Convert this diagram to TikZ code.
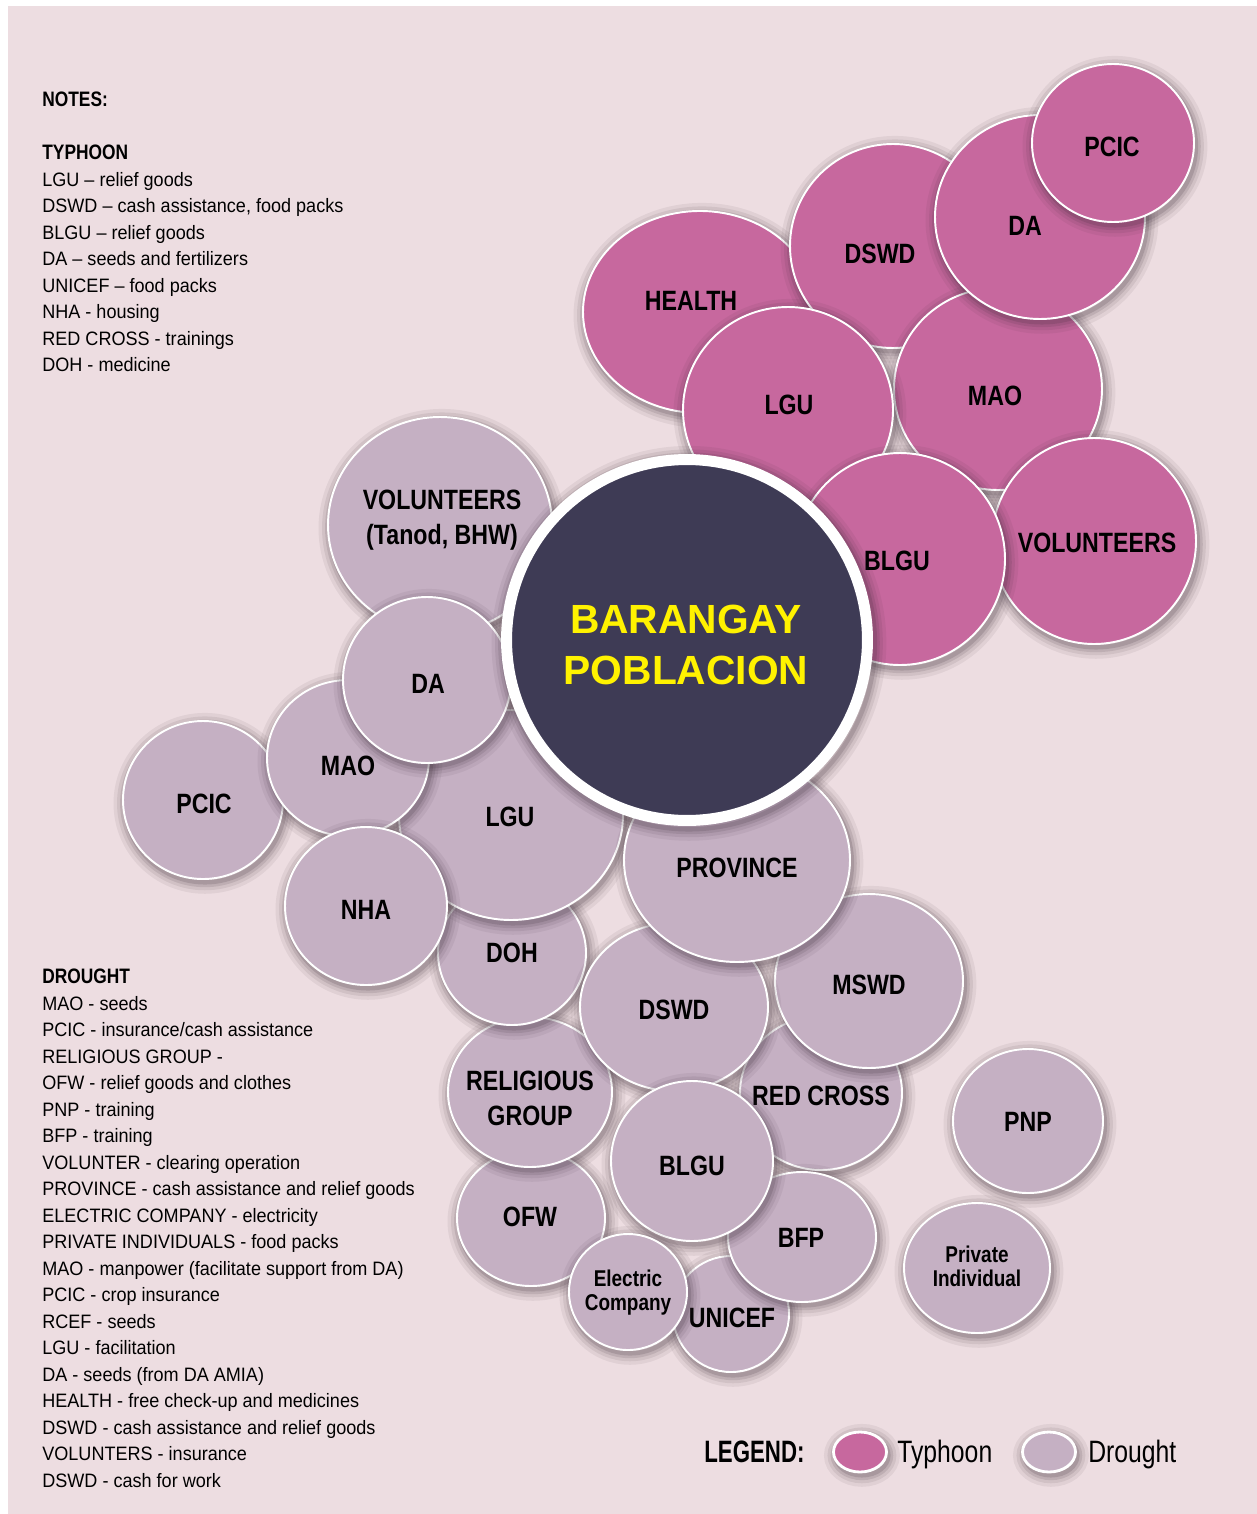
\documentclass[tikz,border=0pt]{standalone}
\usepackage{fontspec}
\setmainfont{Liberation Sans}[FakeStretch=0.93]
\newfontfamily\bubbleFont{Liberation Sans}[FakeStretch=0.83]
\newfontfamily\legendFont{Liberation Sans}[FakeStretch=0.8]
\newfontfamily\legendHeadFont{Liberation Sans}[FakeStretch=0.72]
\newfontfamily\centerFont{Liberation Sans}

\definecolor{bgPink}{HTML}{EDDDE1}
\definecolor{typhoonPink}{HTML}{C7689E}
\definecolor{droughtMauve}{HTML}{C5B0C3}
\definecolor{centerNavy}{HTML}{3E3B55}
\definecolor{titleYellow}{HTML}{FFF200}
\definecolor{shadowPlum}{HTML}{3A2A36}

\tikzset{
    bubble/.style={draw=white, line width=1.1pt},
    typhoon/.style={bubble, fill=typhoonPink},
    drought/.style={bubble, fill=droughtMauve},
    bubbletext/.style={inner sep=0pt, align=center,
        font=\bubbleFont\bfseries\fontsize{15.9}{19.8}\selectfont},
    smalltext/.style={inner sep=0pt, align=center,
        font=\bubbleFont\bfseries\fontsize{13}{13.6}\selectfont},
    notetext/.style={inner sep=0pt, align=left, anchor=north west,
        font=\fontsize{11.05}{15.08}\selectfont},
    legendtext/.style={inner sep=0pt, anchor=base west,
        font=\legendFont\fontsize{17.6}{20}\selectfont}
}

% draws the soft shadow below an ellipse: cx, cy, rx, ry
\newcommand{\bubbleShadow}[4]
{
    \foreach \w/\o in {13pt/0.07, 9pt/0.09, 5.5pt/0.12, 2.5pt/0.16}
        \draw[shadowPlum, draw opacity=\o, line width=\w,
              transform canvas={xshift=1.1pt, yshift=-1.9pt}]
            (#1,-#2) ellipse [x radius=#3, y radius=#4];
}
% style, cx, cy, rx, ry, name, label x, label y, label
\newcommand{\bubble}[9]
{
    \bubbleShadow{#2}{#3}{#4}{#5}
    \path[#1] (#2,-#3) ellipse [x radius=#4, y radius=#5];
    \node[bubbletext] (#6) at (#7,-#8) {#9};
}
\newcommand{\noteHead}[1]{{\bubbleFont\bfseries\fontsize{11.9}{15.08}\selectfont #1}}

\begin{document}
\begin{tikzpicture}[x=0.02cm, y=0.02cm]

    \useasboundingbox (0,0) rectangle (1257,-1514);
    \fill[white] (0,0) rectangle (1257,-1514);
    \fill[bgPink] (8,-6) rectangle (1257,-1514);

    %draws notes:
    \node[notetext] (typhoonNotes) at (42,-92) {\noteHead{NOTES:}\\[15.08pt]
        \noteHead{TYPHOON}\\
        LGU -- relief goods\\
        DSWD -- cash assistance, food packs\\
        BLGU -- relief goods\\
        DA -- seeds and fertilizers\\
        UNICEF -- food packs\\
        NHA - housing\\
        RED CROSS - trainings\\
        DOH - medicine};

    \node[notetext] (droughtNotes) at (42,-969) {\noteHead{DROUGHT}\\
        MAO - seeds\\
        PCIC - insurance/cash assistance\\
        RELIGIOUS GROUP -\\
        OFW - relief goods and clothes\\
        PNP - training\\
        BFP - training\\
        VOLUNTER - clearing operation\\
        PROVINCE - cash assistance and relief goods\\
        ELECTRIC COMPANY - electricity\\
        PRIVATE INDIVIDUALS - food packs\\
        MAO - manpower (facilitate support from DA)\\
        PCIC - crop insurance\\
        RCEF - seeds\\
        LGU - facilitation\\
        DA - seeds (from DA AMIA)\\
        HEALTH - free check-up and medicines\\
        DSWD - cash assistance and relief goods\\
        VOLUNTERS - insurance\\
        DSWD - cash for work};

    %draws typhoon bubbles:
    \bubble{typhoon}{700}{312}{117}{101}{tyHealth}{691}{301}{HEALTH}
    \bubble{typhoon}{893}{246}{103}{102}{tyDswd}{880}{254}{DSWD}
    \bubble{typhoon}{998}{389}{104}{101}{tyMao}{995}{396}{MAO}
    \bubble{typhoon}{1040}{217}{105}{102}{tyDa}{1025}{226}{DA}
    \bubble{typhoon}{1113}{143}{81}{79}{tyPcic}{1112}{147}{PCIC}
    \bubble{typhoon}{788}{410}{105}{103}{tyLgu}{789}{405}{LGU}
    \bubble{typhoon}{1094}{541}{102}{103}{tyVolunteers}{1097}{543}{VOLUNTEERS}
    \bubble{typhoon}{900}{559}{105}{106}{tyBlgu}{897}{561}{BLGU}

    %draws drought bubbles:
    \bubble{drought}{440}{525}{112}{108}{drVolunteers}{442}{520}{VOLUNTEERS\\(Tanod, BHW)}
    \bubble{drought}{203}{800}{80}{79}{drPcic}{204}{804}{PCIC}
    \bubble{drought}{531}{1218}{74}{68}{drOfw}{530}{1217}{OFW}
    \bubble{drought}{530}{1092}{82}{75}{drReligious}{530}{1098}{RELIGIOUS\\GROUP}
    \bubble{drought}{512}{953}{74}{72}{drDoh}{512}{953}{DOH}
    \bubble{drought}{511}{815}{112}{105}{drLgu}{510}{817}{LGU}
    \bubble{drought}{348}{758}{81}{78}{drMao}{348}{766}{MAO}
    \bubble{drought}{427}{680}{84}{83}{drDa}{428}{684}{DA}
    \bubble{drought}{366}{906}{81}{79}{drNha}{366}{910}{NHA}
    \bubble{drought}{821}{1093}{81}{77}{drRedCross}{821}{1096}{RED CROSS}
    \bubble{drought}{869}{981}{94}{87}{drMswd}{869}{985}{MSWD}
    \bubble{drought}{674}{1007}{94}{84}{drDswd}{674}{1010}{DSWD}
    \bubble{drought}{737}{860}{113}{102}{drProvince}{737}{868}{PROVINCE}
    \bubble{drought}{731}{1314}{58}{58}{drUnicef}{732}{1318}{UNICEF}
    \bubble{drought}{802}{1237}{74}{65}{drBfp}{801}{1238}{BFP}
    \bubble{drought}{692}{1161}{81}{80}{drBlgu}{692}{1166}{BLGU}
    \bubbleShadow{628}{1292}{59}{58}
    \path[drought] (628,-1292) ellipse [x radius=59, y radius=58];
    \node[smalltext] (drElectric) at (628,-1293) {Electric\\Company};
    \bubble{drought}{1028}{1121}{75}{72}{drPnp}{1028}{1122}{PNP}
    \bubbleShadow{977}{1268}{73}{65}
    \path[drought] (977,-1268) ellipse [x radius=73, y radius=65];
    \node[smalltext] (drPrivate) at (977,-1266) {Private\\Individual};

    %draws the barangay in the middle
    \bubbleShadow{687}{640}{186}{186}
    \node[circle, fill=centerNavy, draw=white, line width=0.22cm,
          minimum size=7.22cm, inner sep=0pt]
        (barangay) at (687,-640) {};
    \node[text=titleYellow, align=center, inner sep=0pt,
          font=\centerFont\bfseries\fontsize{23.2}{29.5}\selectfont]
        (barangayName) at (686,-645) {BARANGAY\\POBLACION};

    %draws legend
    \node[legendtext, font=\legendHeadFont\bfseries\fontsize{17.6}{20}\selectfont]
        (legendTitle) at (704,-1462) {LEGEND:};
    \bubbleShadow{860}{1452}{26.5}{20}
    \path[typhoon, line width=1.6pt] (860,-1452) ellipse [x radius=26.5, y radius=20];
    \node[legendtext] (legendTyphoon) at (897,-1462) {Typhoon};
    \bubbleShadow{1049}{1452}{26.5}{20}
    \path[drought, line width=1.6pt] (1049,-1452) ellipse [x radius=26.5, y radius=20];
    \node[legendtext] (legendDrought) at (1088,-1462) {Drought};

\end{tikzpicture}
\end{document}
